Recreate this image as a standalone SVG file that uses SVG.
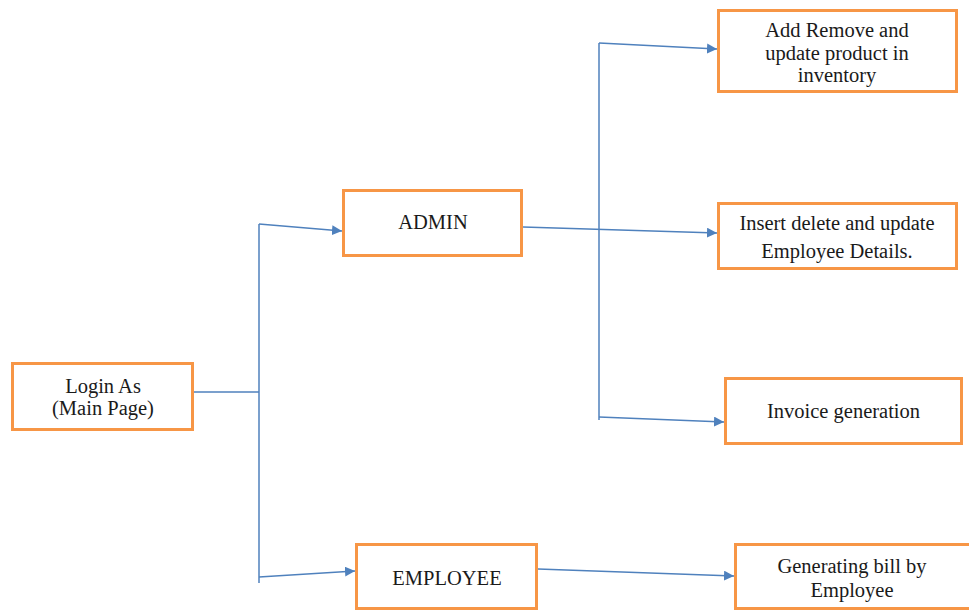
<svg xmlns="http://www.w3.org/2000/svg" width="969" height="610" viewBox="0 0 969 610">
<style>
.box{fill:#fff;stroke:#F79646;stroke-width:3}
.lbl{font-size:20.5px;fill:#1a1a1a;text-anchor:middle}
.ln{fill:none;stroke:#4F81BD;stroke-width:1.5}
</style>
<defs>
<marker id="ah" markerUnits="userSpaceOnUse" markerWidth="11" markerHeight="10" refX="10" refY="5" orient="auto">
<path d="M0,0 L10,5 L0,10 Z" fill="#4F81BD"/>
</marker>
</defs>
<rect width="969" height="610" fill="#fff"/>
<g id="connectors">
<line class="ln" x1="194" y1="392" x2="259" y2="392"/>
<line class="ln" x1="259" y1="224" x2="259" y2="583"/>
<line class="ln" x1="259" y1="224" x2="342" y2="231" marker-end="url(#ah)"/>
<line class="ln" x1="259" y1="577" x2="355" y2="571" marker-end="url(#ah)"/>
<line class="ln" x1="523" y1="227" x2="717" y2="233" marker-end="url(#ah)"/>
<line class="ln" x1="599" y1="43" x2="599" y2="420"/>
<line class="ln" x1="599" y1="43" x2="717" y2="49" marker-end="url(#ah)"/>
<line class="ln" x1="599" y1="417" x2="724" y2="422" marker-end="url(#ah)"/>
<line class="ln" x1="538" y1="569" x2="734" y2="576" marker-end="url(#ah)"/>
</g>
<g font-family="'Liberation Serif', 'Times New Roman', 'DejaVu Serif', serif">
<g id="login">
<rect class="box" x="12.5" y="363.5" width="180" height="66"/>
<text class="lbl" x="103" y="393">Login As</text>
<text class="lbl" x="103" y="415">(Main Page)</text>
</g>
<g id="admin">
<rect class="box" x="343.5" y="190.5" width="178" height="65"/>
<text class="lbl" x="433" y="229">ADMIN</text>
</g>
<g id="inventory">
<rect class="box" x="718.5" y="10.5" width="238" height="81"/>
<text class="lbl" x="837" y="37">Add Remove and</text>
<text class="lbl" x="837" y="60">update product in</text>
<text class="lbl" x="837" y="82">inventory</text>
</g>
<g id="employee-details">
<rect class="box" x="718.5" y="203.5" width="238" height="65"/>
<text class="lbl" x="837" y="230">Insert delete and update</text>
<text class="lbl" x="837" y="258">Employee Details.</text>
</g>
<g id="invoice">
<rect class="box" x="725.5" y="378.5" width="236" height="65"/>
<text class="lbl" x="843.5" y="418">Invoice generation</text>
</g>
<g id="employee">
<rect class="box" x="356.5" y="544.5" width="180" height="64"/>
<text class="lbl" x="447" y="585">EMPLOYEE</text>
</g>
<g id="bill">
<rect class="box" x="735.5" y="544.5" width="236" height="64"/>
<text class="lbl" x="852" y="573">Generating bill by</text>
<text class="lbl" x="852" y="597">Employee</text>
</g>
</g>
</svg>
